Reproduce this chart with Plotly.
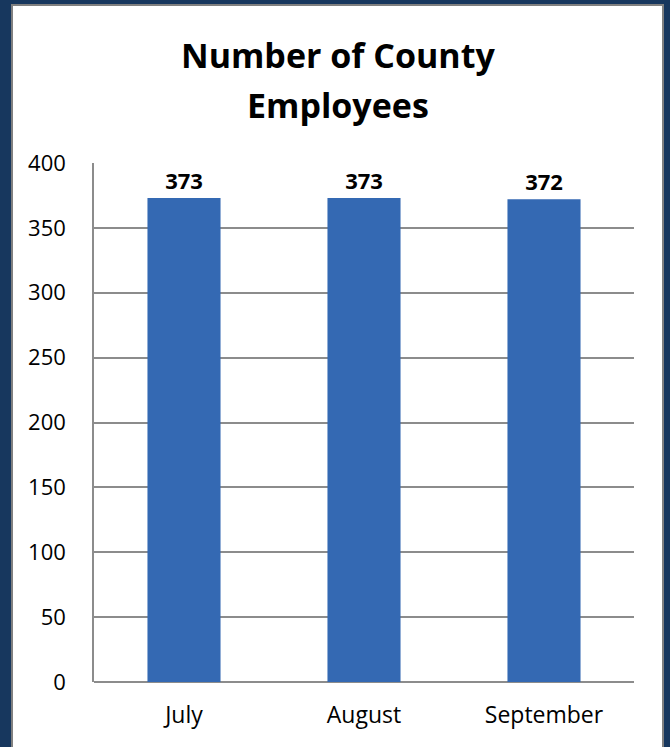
import plotly.graph_objects as go

categories = ["July", "August", "September"]
employees = [373, 373, 372]
y_ticks = [0, 50, 100, 150, 200, 250, 300, 350, 400]
title_lines = ["Number of County", "Employees"]

W, H = 670, 747
L, R, T, B = 94, 36, 163, 65
pw, ph = W - L - R, H - T - B

def px_x(x):
    return (x - L) / pw

def px_y(y):
    return (H - B - y) / ph

FONT = "Open Sans"

fig = go.Figure()
fig.add_trace(go.Bar(
    x=categories, y=employees,
    marker=dict(color="#3469b3", line=dict(width=0)),
    text=[str(v) for v in employees], textposition="outside",
    textfont=dict(family=FONT, size=22, color="black", weight="bold"),
    cliponaxis=False,
))

fig.add_shape(type="rect", xref="paper", yref="paper",
              x0=px_x(12), x1=px_x(663), y0=px_y(760), y1=px_y(5),
              fillcolor="white", line=dict(color="#808080", width=2), layer="below")

for line, yc in zip(title_lines, [55, 105]):
    fig.add_annotation(text="<b>%s</b>" % line, xref="paper", yref="paper",
                       x=px_x(338), y=px_y(yc), xanchor="center", yanchor="middle",
                       showarrow=False, font=dict(family=FONT, size=34, color="black"))

fig.update_layout(
    width=W, height=H,
    margin=dict(l=L, r=R, t=T, b=B),
    paper_bgcolor="#17375e", plot_bgcolor="rgba(0,0,0,0)",
    bargap=0.594, showlegend=False,
    font=dict(family=FONT, size=22, color="black"),
)
fig.update_xaxes(showgrid=False, showline=False, ticks="", ticklabelstandoff=17,
                 tickfont=dict(size=23))
fig.update_yaxes(range=[0, 400], tickvals=y_ticks, showgrid=True, gridcolor="#8c8c8c",
                 gridwidth=1.5, showline=True, linecolor="#8c8c8c", linewidth=1.5,
                 zeroline=True, zerolinecolor="#8c8c8c", zerolinewidth=2,
                 ticks="", ticklabelstandoff=22, tickfont=dict(size=22))

fig.write_html("out.html", config={"displayModeBar": False},
               post_script="document.body.style.margin='0';document.body.style.background='#17375e';")
